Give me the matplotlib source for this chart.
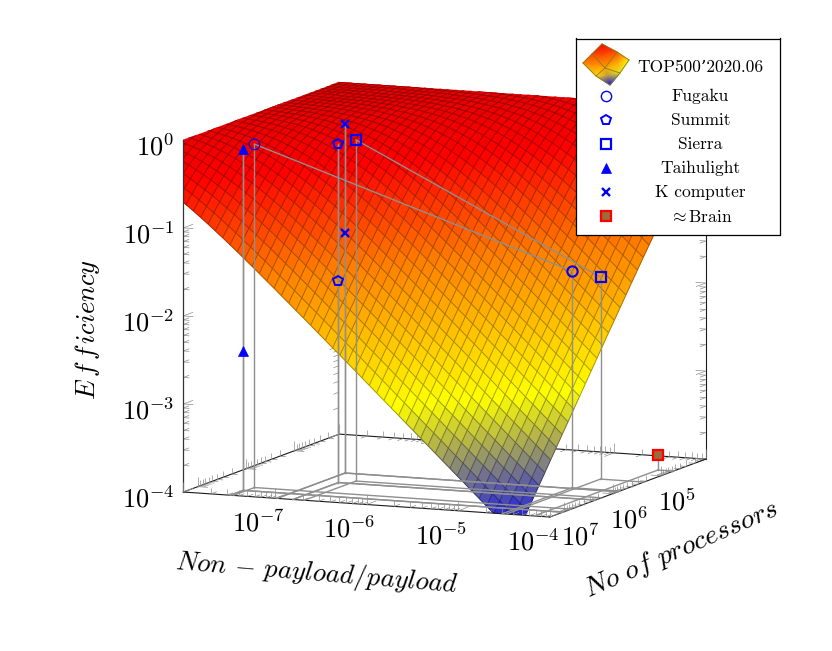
import numpy as np
import matplotlib
matplotlib.use("Agg")
import matplotlib.pyplot as plt
from matplotlib.colors import LinearSegmentedColormap, Normalize
from mpl_toolkits.mplot3d import proj3d
from mpl_toolkits.mplot3d.art3d import Line3DCollection

plt.rcParams["mathtext.fontset"] = "cm"

# --- everything is in log10 units, mplot3d has no real log axes ---
x_lim = (-8, -4)
y_lim = (7.3, 4.07)  # reversed, largest machines are in front
z_lim = (-4, 0)

# efficiency drop (decades below 1) read along the surface,
# one entry per 0.04 decade of payload ratio * processors, from 10^-3 up
eff_drop = [
    .008, .009, .010, .011, .012, .013, .014, .015, .017, .018, .020, .022, .024, .026, .029,
    .032, .035, .038, .041, .045, .049, .054, .058, .064, .069, .076, .082, .089, .097, .106,
    .114, .124, .134, .145, .157, .170, .183, .197, .212, .228, .245, .263, .281, .301, .321,
    .342, .365, .388, .412, .437, .463, .490, .517, .545, .574, .604, .634, .665, .697, .729,
    .762, .795, .829, .863, .898, .933, .969, 1.005, 1.041, 1.077, 1.114, 1.151, 1.188, 1.225, 1.264,
    1.301, 1.338, 1.378, 1.416, 1.455, 1.494, 1.533, 1.571, 1.610, 1.650, 1.689, 1.728, 1.767, 1.806, 1.846,
    1.885, 1.924, 1.964, 2.003, 2.043, 2.083, 2.122, 2.162, 2.202, 2.242, 2.281, 2.32, 2.36, 2.40, 2.44,
    2.48, 2.52, 2.56, 2.60, 2.64, 2.68, 2.72, 2.76, 2.80, 2.84, 2.88, 2.92, 2.96, 3.00, 3.04,
    3.08, 3.12, 3.16, 3.20, 3.24, 3.28, 3.32, 3.36, 3.40, 3.44, 3.48, 3.52, 3.56, 3.60, 3.64,
    3.68, 3.72, 3.76, 3.80, 3.84, 3.88, 3.92, 3.96, 4.00, 4.04, 4.08, 4.12, 4.16, 4.20, 4.24,
]

# supercomputers: log10(non-payload/payload), log10(processors), log10(efficiency)
fugaku_x = [-7.456, -4.52]
fugaku_y = [6.86, 5.85]
fugaku_z = [-0.10, -1.54]
summit_x = [-6.805, -6.805]
summit_y = [6.355, 6.355]
summit_z = [-0.153, -1.71]
sierra_x = [-6.68, -4.474]
sierra_y = [6.228, 5.35]
sierra_z = [-0.125, -1.705]
taihu_x = [-7.488, -7.488]
taihu_y = [7.03, 7.03]
taihu_z = [-0.125, -2.42]
kcomp_x = [-6.98, -6.98]
kcomp_y = [5.885, 5.885]
kcomp_z = [-0.034, -1.27]
brain_x = [-4.17]
brain_y = [4.74]
brain_z = [-3.83]

legend_names = ["Fugaku", "Summit", "Sierra", "Taihulight", "K computer", r"$\approx$Brain"]

hot = LinearSegmentedColormap.from_list(
    "hot4", [(0, "#0000ff"), (1 / 3, "#ffff00"), (2 / 3, "#ff8000"), (0.9, "#ff0000"), (1, "#e80000")])
norm = Normalize(-4.15, 0)

fig = plt.figure(figsize=(8.32, 6.51), dpi=100)
ax = fig.add_axes([112.8 / 832, 19.8 / 651, 646 / 832, 646 / 651], projection="3d", computed_zorder=False)
ax.set_proj_type("ortho")
ax.view_init(elev=9.16, azim=-66.8)
ax.set_box_aspect((399, 396, 357))
ax.set_axis_off()

# --- surface, runs past the box on the low side and gets clipped to it ---
x_grid = -9.96 + 0.08 * np.arange(71)
y_grid = 2.04 + 0.12 * np.arange(45)
X, Y = np.meshgrid(x_grid, y_grid)
ii, jj = np.meshgrid(np.arange(71), np.arange(45))
idx = 2 * ii + 3 * jj - 123
Z = np.where(idx < 0, 0.0, -np.array(eff_drop)[np.clip(idx, 0, None)])
face = hot(norm(Z))
surf = ax.plot_surface(X, Y, Z, facecolors=face, rstride=1, cstride=1, shade=False,
                       linewidth=0.3, zorder=2)

# mesh lines on top of the faces so both directions stay visible
mesh_segs, mesh_cols = [], []
for j in range(Z.shape[0]):
    for i in range(Z.shape[1]):
        dark = face[j, i].copy()
        dark[:3] *= 0.66
        if i + 1 < Z.shape[1]:
            mesh_segs.append([(X[j, i], Y[j, i], Z[j, i]), (X[j, i + 1], Y[j, i + 1], Z[j, i + 1])])
            mesh_cols.append(dark)
        if j + 1 < Z.shape[0]:
            mesh_segs.append([(X[j, i], Y[j, i], Z[j, i]), (X[j + 1, i], Y[j + 1, i], Z[j + 1, i])])
            mesh_cols.append(dark)
mesh = Line3DCollection(mesh_segs, colors=mesh_cols, linewidths=0.7, zorder=2.5)
ax.add_collection3d(mesh)

# --- box ---
x0, x1 = x_lim
y1, y0 = y_lim
z0, z1 = z_lim
box = "#1a1a1a"
ax.plot([x0, x0], [y1, y0], [z0, z0], color=box, lw=0.8, zorder=1)
ax.plot([x0, x1], [y0, y0], [z0, z0], color=box, lw=0.8, zorder=1)
ax.plot([x0, x1], [y1, y1], [z0, z0], color=box, lw=0.8, zorder=3)
ax.plot([x1, x1], [y1, y0], [z0, z0], color=box, lw=0.8, zorder=3)
ax.plot([x0, x0], [y1, y1], [z0, z1], color="#333333", lw=0.9, zorder=3)
ax.plot([x1, x1], [y0, y0], [z0, z1], color=box, lw=0.8, zorder=1)


# --- ticks, pgfplots style: small strokes along the other two axis directions ---
def decade_ticks(lo, hi):
    major, minor = [], []
    for d in range(int(np.floor(lo)), int(np.ceil(hi)) + 1):
        if lo <= d <= hi:
            major.append(d)
        for m in range(2, 10):
            v = d + np.log10(m)
            if lo <= v <= hi:
                minor.append(v)
    return major, minor


def tick_segs(values, length, base, dirs):
    segs = []
    for v in values:
        for d in dirs:
            p = base(v)
            segs.append([p, (p[0] + d[0] * length, p[1] + d[1] * length, p[2] + d[2] * length)])
    return segs


DX, DY, DZ = 0.11, 0.20, 0.113
back, front = [], []
for vals, ln in zip(decade_ticks(x0, x1), (1.0, 0.6)):
    front += tick_segs(vals, ln, lambda v: (v, y1, z0), [(0, -DY, 0), (0, 0, DZ)])
    back += tick_segs(vals, ln, lambda v: (v, y0, z0), [(0, DY, 0), (0, 0, DZ)])
for vals, ln in zip(decade_ticks(y0, y1), (1.0, 0.6)):
    front += tick_segs(vals, ln, lambda v: (x1, v, z0), [(-DX, 0, 0), (0, 0, DZ)])
    back += tick_segs(vals, ln, lambda v: (x0, v, z0), [(DX, 0, 0), (0, 0, DZ)])
for vals, ln in zip(decade_ticks(z0, z1), (1.0, 0.6)):
    back += tick_segs(vals, ln, lambda v: (x0, y1, v), [(DX, 0, 0), (0, -DY, 0)])
    back += tick_segs(vals, ln, lambda v: (x1, y0, v), [(-DX, 0, 0), (0, DY, 0)])
    back += tick_segs(vals, ln, lambda v: (x0, y0, v), [(0, DY, 0)])
ax.add_collection3d(Line3DCollection(back, colors="#8c8c8c", linewidths=0.5, zorder=1))
ax.add_collection3d(Line3DCollection(front, colors="#8c8c8c", linewidths=0.5, zorder=3))

# --- drop lines and their shadows on the floor ---
grey = "#8f8f8f"
machines = [(fugaku_x, fugaku_y, fugaku_z), (summit_x, summit_y, summit_z), (sierra_x, sierra_y, sierra_z),
            (taihu_x, taihu_y, taihu_z), (kcomp_x, kcomp_y, kcomp_z), (brain_x, brain_y, brain_z)]
for mx, my, mz in machines:
    ax.plot(mx, my, mz, color=grey, lw=1.0, zorder=4)
    for px, py, pz in zip(mx, my, mz):
        ax.plot([px, px], [py, py], [pz, z0], color=grey, lw=1.0, zorder=4)
        ax.plot([px, px], [py, y1], [z0, z0], color=grey, lw=1.0, zorder=4)
        ax.plot([px, x1], [py, py], [z0, z0], color=grey, lw=1.0, zorder=4)

blue = "#0000ff"
ax.plot(fugaku_x[:1], fugaku_y[:1], fugaku_z[:1], "o", ms=7.6, mfc="none", mec=blue, mew=0.8, zorder=5)
ax.plot(fugaku_x[1:], fugaku_y[1:], fugaku_z[1:], "o", ms=7.4, mfc="none", mec=blue, mew=1.5, zorder=5)
ax.plot(summit_x, summit_y, summit_z, "p", ms=7.4, mfc="none", mec=blue, mew=1.4, zorder=5)
ax.plot(sierra_x, sierra_y, sierra_z, "s", ms=7.4, mfc="none", mec=blue, mew=1.6, zorder=5)
ax.plot(taihu_x, taihu_y, taihu_z, "^", ms=7.2, mfc=blue, mec=blue, mew=0.5, zorder=5)
ax.plot(kcomp_x, kcomp_y, kcomp_z, "x", ms=5.4, mec=blue, mew=1.7, zorder=5)
ax.plot(brain_x, brain_y, brain_z, "s", ms=7.6, mfc="#9c6b3a", mec="#ff0000", mew=1.6, zorder=5)

ax.set_xlim(*x_lim)
ax.set_ylim(*y_lim)
ax.set_zlim(*z_lim)

M = ax.get_proj()
def to_view(x, y, z):
    px, py, _ = proj3d.proj_transform(x, y, z, M)
    return px, py


# clip the surface to the outline of the box
outline = [to_view(*p) for p in [(x0, y1, z0), (x1, y1, z0), (x1, y0, z0), (x1, y0, z1), (x0, y0, z1), (x0, y1, z1)]]
clip = plt.Polygon(outline, closed=True, transform=ax.transData)
surf.set_clip_path(clip)
mesh.set_clip_path(clip)


def tick_label(x, y, z, text, dx, dy, ha="center"):
    ax.annotate(text, to_view(x, y, z), xytext=(dx, dy), textcoords="offset pixels",
                ha=ha, va="center", fontsize=19, annotation_clip=False)


for d in [-7, -6, -5, -4]:
    tick_label(d, y1, z0, r"$10^{%d}$" % d, -17, -26)
for d in [7, 6, 5]:
    tick_label(x1, d, z0, r"$10^{%d}$" % d, 16, -27)
for d in [0, -1, -2, -3, -4]:
    tick_label(x0, y1, d, r"$10^{%d}$" % d, -9, -8, ha="right")

fig.text(87 / 832, 1 - 330 / 651, r"$E\,f\,f\,iciency$", rotation=90, fontsize=19, ha="center", va="center")
fig.text(317 / 832, 1 - 574 / 651, r"$Non\,-\,payload/payload$", rotation=-4.7, fontsize=19.3,
         ha="center", va="center", rotation_mode="anchor")
fig.text(681 / 832, 1 - 549 / 651, r"$No\ of\ processors$", rotation=23.5, fontsize=20,
         ha="center", va="center", rotation_mode="anchor")

# --- legend box, working in figure pixels ---
lg = fig.add_axes([575.5 / 832, 1 - 234.5 / 651, 204 / 832, 196 / 651])
lg.set_xticks([])
lg.set_yticks([])
for s in lg.spines.values():
    s.set_linewidth(0.9)

icon_x = [[602, 617, 629], [592, 605, 620], [583, 596, 610]]
icon_y = [[44, 52, 60], [54, 68, 73], [63, 76, 85]]
icon_c = [[-0.2, -1.0, -2.6], [-0.9, -1.8, -2.9], [-1.4, -2.4, -4.15]]
lg.pcolormesh(icon_x, icon_y, icon_c, shading="gouraud", cmap=hot, norm=norm)
icon_x, icon_y = np.array(icon_x), np.array(icon_y)
for k in range(3):
    lg.plot(icon_x[k], icon_y[k], color="#8a7a20", lw=0.6)
    lg.plot(icon_x[:, k], icon_y[:, k], color="#8a7a20", lw=0.6)

rows = [96, 120.5, 144.5, 168, 192, 216.5]
styles = [dict(marker="o", ms=7.4, mfc="none", mec=blue, mew=1.0),
          dict(marker="p", ms=7.4, mfc="none", mec=blue, mew=1.4),
          dict(marker="s", ms=7.4, mfc="none", mec=blue, mew=1.6),
          dict(marker="^", ms=7.2, mfc=blue, mec=blue, mew=0.5),
          dict(marker="x", ms=5.4, mec=blue, mew=1.7),
          dict(marker="s", ms=7.6, mfc="#9c6b3a", mec="#ff0000", mew=1.6)]
lg.text(700.5, 67.5, "TOP500\u20192020.06", family=["cmr10", "DejaVu Serif"], fontsize=12.5, ha="center", va="center")
for r, name, st in zip(rows, legend_names, styles):
    lg.plot([606], [r], ls="none", **st)
    lg.text(700.5, r, name, family="cmr10", fontsize=12.5, ha="center", va="center")
lg.set_xlim(575.5, 779.5)
lg.set_ylim(234.5, 38.5)

fig.savefig("out.png", dpi=100)
